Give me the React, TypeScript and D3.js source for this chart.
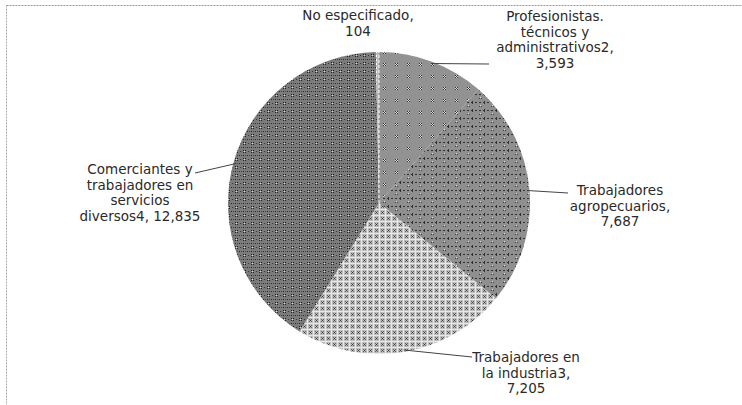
import React from "react";
import * as d3 from "d3";

const categories = [
  "Profesionistas, técnicos y administrativos2",
  "Trabajadores agropecuarios",
  "Trabajadores en la industria3",
  "Comerciantes y trabajadores en servicios diversos4",
  "No especificado",
];
const values = [3593, 7687, 7205, 12835, 104];
const valueLabels = ["3,593", "7,687", "7,205", "12,835", "104"];
const labelLines: string[][] = [
  ["Profesionistas.", "técnicos y", "administrativos2,", "3,593"],
  ["Trabajadores", "agropecuarios,", "7,687"],
  ["Trabajadores en", "la industria3,", "7,205"],
  ["Comerciantes y", "trabajadores en", "servicios", "diversos4,  12,835"],
  ["No especificado,", "104"],
];

// layout (not data)
const W = 742, H = 405;
const cx = 379, cy = 203, R = 151;
const labelAnchor = [
  { x: 555, y: 21, lead: { x: 489, y: 64 } },
  { x: 620, y: 195, lead: { x: 568, y: 193 } },
  { x: 526, y: 362, lead: { x: 472, y: 357 } },
  { x: 140, y: 174, lead: { x: 195, y: 173 } },
  { x: 358, y: 20, lead: null },
];
const fills = ["url(#pProf)", "url(#pAgro)", "url(#pInd)", "url(#pCom)", "url(#pNo)"];

export default function App() {
  const pie = d3.pie<number>().sort(null).value((d) => d).startAngle(0).endAngle(2 * Math.PI);
  const arcs = pie(values);
  const arc = d3.arc<d3.PieArcDatum<number>>().innerRadius(0).outerRadius(R);
  const font = "'DejaVu Sans', Arial, sans-serif";
  return (
    <svg width={W} height={H} style={{ position: "absolute", left: 0, top: 0 }}>
      <defs>
        <pattern id="pCom" width="8" height="8" patternUnits="userSpaceOnUse">
          <rect width="8" height="8" fill="#7b7b7b" />
          <rect x="0" y="0" width="1" height="1" fill="#2a2a2a" />
          <rect x="4" y="0" width="1" height="1" fill="#2a2a2a" />
          <rect x="2" y="0" width="1" height="1" fill="#4a4a4a" />
          <rect x="6" y="0" width="1" height="1" fill="#4a4a4a" />
          <rect x="1" y="4" width="1" height="1" fill="#e0e0e0" />
          <rect x="0" y="3" width="1" height="1" fill="#222" />
          <rect x="2" y="3" width="1" height="1" fill="#222" />
          <rect x="0" y="5" width="1" height="1" fill="#222" />
          <rect x="2" y="5" width="1" height="1" fill="#222" />
          <rect x="5" y="4" width="1" height="1" fill="#333" />
        </pattern>
        <pattern id="pProf" width="12" height="12" patternUnits="userSpaceOnUse">
          <rect width="12" height="12" fill="#929292" />
          <rect x="4" y="4" width="1" height="1" fill="#333" />
          <rect x="6" y="4" width="1" height="1" fill="#333" />
          <rect x="5" y="5" width="1" height="1" fill="#333" />
          <rect x="4" y="6" width="1" height="1" fill="#333" />
          <rect x="6" y="6" width="1" height="1" fill="#333" />
          <rect x="5" y="4" width="1" height="1" fill="#e0e0e0" />
          <rect x="4" y="5" width="1" height="1" fill="#e0e0e0" />
          <rect x="6" y="5" width="1" height="1" fill="#e0e0e0" />
          <rect x="5" y="6" width="1" height="1" fill="#e0e0e0" />
        </pattern>
        <pattern id="pAgro" width="12" height="8" patternUnits="userSpaceOnUse">
          <rect width="12" height="8" fill="#8f8f8f" />
          <rect x="0" y="3" width="2" height="1" fill="#333" />
          <rect x="4" y="3" width="2" height="1" fill="#333" />
          <rect x="8" y="3" width="2" height="1" fill="#333" />
          <rect x="9" y="2" width="1" height="3" fill="#333" />
          <rect x="5" y="6" width="1" height="1" fill="#e0e0e0" />
          <rect x="4" y="7" width="1" height="1" fill="#444" />
          <rect x="6" y="7" width="1" height="1" fill="#444" />
        </pattern>
        <pattern id="pInd" width="6" height="6" patternUnits="userSpaceOnUse">
          <rect width="6" height="6" fill="#bdbdbd" />
          <rect x="0" y="0" width="6" height="1" fill="#e8e8e8" />
          <rect x="0" y="0" width="1" height="6" fill="#e8e8e8" />
          <rect x="3" y="3" width="1" height="1" fill="#333" />
          <rect x="2" y="2" width="1" height="1" fill="#666" />
          <rect x="4" y="4" width="1" height="1" fill="#666" />
          <rect x="4" y="2" width="1" height="1" fill="#666" />
          <rect x="2" y="4" width="1" height="1" fill="#666" />
        </pattern>
        <pattern id="pNo" width="4" height="4" patternUnits="userSpaceOnUse">
          <rect width="4" height="4" fill="#bbbbbb" />
          <rect x="0" y="0" width="2" height="2" fill="#ffffff" />
        </pattern>
      </defs>
      <line x1={6.5} y1={5.5} x2={W} y2={5.5} stroke="#999" strokeDasharray="2,1" />
      <line x1={6.5} y1={5.5} x2={6.5} y2={H} stroke="#aaa" strokeDasharray="2,1" />
      <g transform={`translate(${cx},${cy})`}>
        {arcs.map((a, i) => (
          <path key={categories[i]} d={arc(a) || ""} fill={fills[i]} />
        ))}
        <line x1={0} y1={0} x2={0} y2={-R} stroke="#fff" strokeWidth={1} strokeDasharray="3,2" />
      </g>
      {arcs.map((a, i) => {
        const la = labelAnchor[i];
        if (!la.lead) return null;
        const mid = (a.startAngle + a.endAngle) / 2;
        const px = cx + Math.sin(mid) * (R - 2);
        const py = cy - Math.cos(mid) * (R - 2);
        return (
          <polyline
            key={"l" + i}
            points={`${px},${py} ${la.lead.x},${la.lead.y}`}
            fill="none"
            stroke="#444"
            strokeWidth={1}
          />
        );
      })}
      {labelLines.map((lines, i) => (
        <text
          key={"t" + i}
          x={labelAnchor[i].x}
          y={labelAnchor[i].y}
          textAnchor="middle"
          fontFamily={font}
          fontSize={13.5}
          fill="#2a2a2a"
        >
          {lines.map((ln, j) => (
            <tspan key={j} x={labelAnchor[i].x} dy={j === 0 ? 0 : 15.7}>
              {ln}
            </tspan>
          ))}
        </text>
      ))}
    </svg>
  );
}
